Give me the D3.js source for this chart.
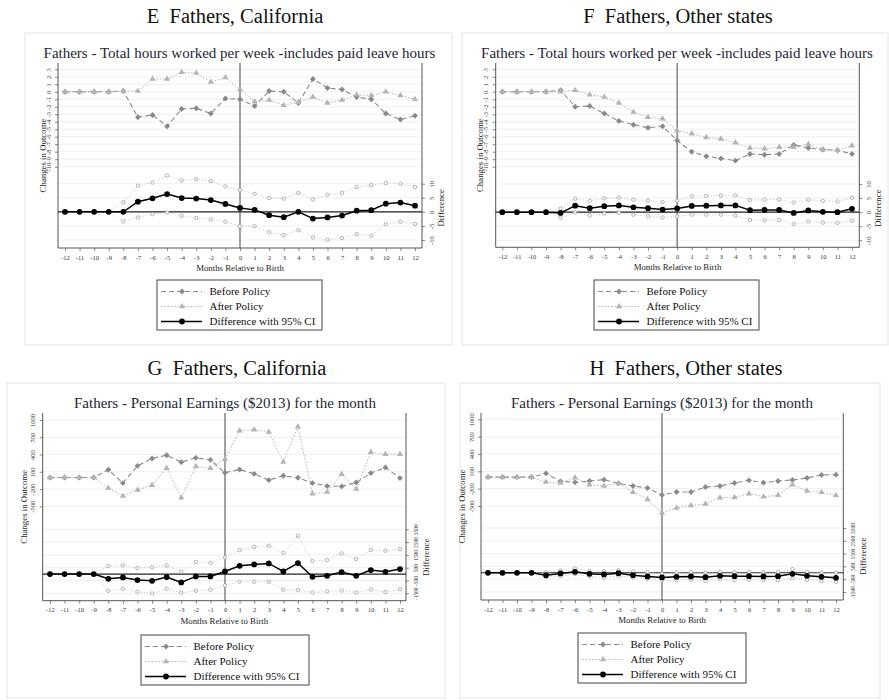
<!DOCTYPE html>
<html>
<head>
<meta charset="utf-8">
<script src="https://cdn.jsdelivr.net/npm/d3@7"></script>
<style>
  body { margin: 0; background: #fff; }
  svg { display: block; }
  text { font-family: "Liberation Serif", "Times New Roman", Times, serif; }
</style>
</head>
<body>
<svg id="chart" width="889" height="700"></svg>
<script>
// months relative to birth (x categories)
const months = [-12, -11, -10, -9, -8, -7, -6, -5, -4, -3, -2, -1, 0, 1, 2, 3, 4, 5, 6, 7, 8, 9, 10, 11, 12];

// E: hours, California
const hours_ca_before = [0, 0, 0, 0, 0.1, -3.4, -3.1, -4.6, -2.3, -2.2, -2.9, -0.9, -1.0, -1.9, 0.1, 0, -1.5, 1.7, 0.5, 0.3, -0.7, -1.0, -2.9, -3.7, -3.2];
const hours_ca_after = [0, 0, 0, 0, 0.1, 0.1, 1.7, 1.7, 2.6, 2.5, 1.3, 1.9, 0.3, -1.3, -1.1, -1.8, -1.4, -0.7, -1.5, -1.1, -0.4, -0.5, 0, -0.5, -1.0];
const hours_ca_diff = [0, 0, 0, 0, 0, 3.6, 4.8, 6.3, 4.9, 4.7, 4.2, 2.8, 1.4, 0.7, -1.2, -1.9, 0, -2.4, -2.0, -1.3, 0.4, 0.6, 2.9, 3.3, 2.2];
const hours_ca_upper = [0, 0, 0, 0, 3.4, 9.3, 10.4, 12.9, 11.2, 11.6, 10.9, 9.0, 7.8, 6.4, 4.9, 4.7, 6.7, 4.4, 6.1, 6.7, 8.8, 9.5, 10.2, 10.0, 8.8];
const hours_ca_lower = [0, 0, 0, 0, -3.4, -2.0, -0.8, -0.2, -1.4, -2.2, -2.7, -3.5, -5.1, -5.1, -7.2, -8.3, -6.5, -9.1, -9.9, -9.3, -7.9, -8.5, -4.4, -3.5, -4.3];

// F: hours, other states
const hours_ot_before = [0, 0, 0, 0, 0.2, -2.0, -1.9, -2.9, -3.9, -4.4, -4.8, -4.6, -6.5, -8.0, -8.6, -8.9, -9.2, -8.3, -8.4, -8.3, -7.1, -7.5, -7.7, -7.8, -8.3];
const hours_ot_after = [0, 0, 0, 0, 0, 0.2, -0.4, -0.7, -1.5, -2.7, -3.4, -3.6, -5.2, -5.6, -6.1, -6.3, -6.8, -7.5, -7.6, -7.4, -7.4, -7.0, -7.7, -7.8, -7.2];
const hours_ot_diff = [0, 0, 0, 0, -0.3, 2.3, 1.4, 2.1, 2.4, 1.7, 1.4, 0.9, 1.3, 2.2, 2.3, 2.4, 2.4, 0.7, 0.8, 0.8, -0.3, 0.6, 0.1, 0, 1.2];
const hours_ot_upper = [0, 0, 0, 0, 1.3, 4.8, 4.0, 4.9, 5.2, 4.4, 4.1, 3.6, 4.1, 5.6, 5.8, 5.9, 6.0, 4.3, 4.4, 4.5, 3.4, 4.4, 4.0, 3.8, 5.1];
const hours_ot_lower = [0, 0, 0, 0, -2.0, -0.1, -1.2, -0.5, -0.2, -0.9, -1.4, -1.9, -1.5, -0.9, -0.9, -0.9, -1.2, -2.8, -2.9, -2.8, -4.2, -3.3, -3.7, -3.8, -3.0];

// G: earnings, California
const earn_ca_before = [0, 0, 0, 0, 135, -96, 204, 331, 388, 267, 342, 308, 83, 140, 65, -44, 31, -4, -96, -148, -154, -85, 77, 175, -10];
const earn_ca_after = [0, 0, 0, 0, -183, -321, -217, -131, 163, -350, 192, 163, 319, 815, 833, 792, 273, 885, -281, -252, 60, -200, 440, 406, 406];
const earn_ca_diff = [0, 0, 0, 0, -365, -260, -469, -521, -234, -651, -182, -182, 208, 651, 755, 833, 208, 859, -208, -130, 156, -130, 313, 182, 391];
const earn_ca_upper = [0, 0, 0, 0, 625, 677, 469, 521, 677, 182, 938, 885, 1302, 1875, 2109, 2214, 1667, 2995, 1016, 1094, 1615, 1172, 1875, 1823, 1953];
const earn_ca_lower = [0, 0, 0, 0, -1302, -1146, -1380, -1510, -1146, -1458, -1302, -1224, -885, -599, -599, -599, -1224, -1250, -1432, -1354, -1276, -1432, -1198, -1406, -1172];

// H: earnings, other states
const earn_ot_before = [0, 0, 0, 0, 65, -73, -90, -67, -44, -108, -154, -188, -310, -258, -258, -171, -154, -102, -56, -96, -67, -50, -15, 37, 42];
const earn_ot_after = [0, 0, 0, 0, -85, -102, -10, -131, -154, -108, -263, -385, -621, -535, -489, -465, -356, -350, -287, -339, -315, -131, -240, -263, -315];
const earn_ot_diff = [0, 0, 0, 0, -182, -52, 78, -78, -130, -26, -182, -286, -365, -313, -286, -339, -234, -260, -260, -286, -260, -78, -234, -313, -391];
const earn_ot_upper = [0, 0, 0, 0, 26, 182, 339, 130, 130, 208, 104, 52, -78, 26, 52, 0, 78, 52, 78, 52, 52, 286, 78, 26, 0];
const earn_ot_lower = [0, 0, 0, 0, -339, -260, -104, -286, -391, -234, -365, -469, -599, -599, -521, -625, -521, -573, -547, -573, -573, -443, -547, -651, -703];

const hours_left_ticks = [3, 2, 1, 0, -1, -2, -3, -4, -5, -6, -7, -8, -9, -10];
const hours_right_ticks = [10, 5, 0, -5, -10];
const earn_left_ticks = [1000, 700, 400, 100, -200, -500];
const earn_right_ticks = [3500, 2500, 1500, 500, -500, -1500];

const legend_labels = ['Before Policy', 'After Policy', 'Difference with 95% CI'];
const hours_title = 'Fathers - Total hours worked per week -includes paid leave hours';
const earn_title = 'Fathers - Personal Earnings ($2013) for the month';

const panels = [
  { heading: 'E\u00a0\u00a0Fathers, California', title: hours_title,
    before: hours_ca_before, after: hours_ca_after, diff: hours_ca_diff, upper: hours_ca_upper, lower: hours_ca_lower,
    left_ticks: hours_left_ticks, right_ticks: hours_right_ticks, right_font: 6.5,
    frame: [25, 33, 427, 312], head: [235, 23], title_pos: [239.5, 58],
    plot: { l: 58, r: 422, t: 63, b: 248 }, x_range: [65, 415],
    left_range: [166.7, 69.3], right_range: [240, 183.7], legend: [157, 280, 165, 50], ytitle_dx: 12.5, rtitle_dx: 21.5 },
  { heading: 'F\u00a0\u00a0Fathers, Other states', title: hours_title,
    before: hours_ot_before, after: hours_ot_after, diff: hours_ot_diff, upper: hours_ot_upper, lower: hours_ot_lower,
    left_ticks: hours_left_ticks, right_ticks: hours_right_ticks, right_font: 6.5,
    frame: [462, 33, 426, 312], head: [678, 23], title_pos: [677, 58],
    plot: { l: 495.7, r: 859.3, t: 63, b: 247.3 }, x_range: [502.3, 852],
    left_range: [166.7, 69.3], right_range: [240.3, 184], legend: [594, 280, 165, 50], ytitle_dx: 12.5, rtitle_dx: 21.5 },
  { heading: 'G\u00a0\u00a0Fathers, California', title: earn_title,
    before: earn_ca_before, after: earn_ca_after, diff: earn_ca_diff, upper: earn_ca_upper, lower: earn_ca_lower,
    left_ticks: earn_left_ticks, right_ticks: earn_right_ticks, right_font: 5.4,
    frame: [7, 383, 438, 315], head: [237, 375], title_pos: [225, 408],
    plot: { l: 42.7, r: 406, t: 413, b: 600.7 }, x_range: [50, 400],
    left_range: [506.3, 420], right_range: [593.3, 529.3], legend: [141, 635, 168, 50], ytitle_dx: 16, rtitle_dx: 23 },
  { heading: 'H\u00a0\u00a0Fathers, Other states', title: earn_title,
    before: earn_ot_before, after: earn_ot_after, diff: earn_ot_diff, upper: earn_ot_upper, lower: earn_ot_lower,
    left_ticks: earn_left_ticks, right_ticks: earn_right_ticks, right_font: 5.4,
    frame: [460, 383, 420, 315], head: [686, 375], title_pos: [662, 408],
    plot: { l: 481, r: 843.3, t: 413, b: 600 }, x_range: [488, 836],
    left_range: [506, 419.3], right_range: [592, 528], legend: [578, 633, 168, 50], ytitle_dx: 16, rtitle_dx: 23 }
];

const before_color = '#8a8a8a';
const after_color = '#b4b4b4';
const ci_color = '#a0a0a0';

const svg = d3.select('#chart');

function diamond() { return d3.symbol().type(d3.symbolSquare).size(17)(); }
function triangle() { return d3.symbol().type(d3.symbolTriangle).size(17)(); }
function dot() { return d3.symbol().type(d3.symbolCircle).size(26)(); }

function DrawPanel(p) {
  const g = svg.append('g');
  const pl = p.plot;

  // frame around the whole panel figure
  g.append('rect')
    .attr('x', p.frame[0]).attr('y', p.frame[1])
    .attr('width', p.frame[2]).attr('height', p.frame[3])
    .attr('fill', '#fff').attr('stroke', '#e4e4e4').attr('stroke-width', 1);

  g.append('text')
    .attr('x', p.head[0]).attr('y', p.head[1])
    .attr('text-anchor', 'middle').attr('font-size', 20.5).attr('fill', '#111')
    .text(p.heading);

  g.append('text')
    .attr('x', p.title_pos[0]).attr('y', p.title_pos[1])
    .attr('text-anchor', 'middle').attr('font-size', 15).attr('fill', '#1e2636')
    .text(p.title);

  const x = d3.scaleLinear().domain([d3.min(months), d3.max(months)]).range(p.x_range);
  const y_left = d3.scaleLinear().domain([d3.min(p.left_ticks), d3.max(p.left_ticks)]).range(p.left_range);
  const y_right = d3.scaleLinear().domain([d3.min(p.right_ticks), d3.max(p.right_ticks)]).range(p.right_range);

  // grid
  const grid = g.append('g').attr('stroke', '#ebebeb').attr('stroke-width', 0.8);
  grid.selectAll('line.gl').data(p.left_ticks).join('line')
    .attr('x1', pl.l).attr('x2', pl.r)
    .attr('y1', d => y_left(d)).attr('y2', d => y_left(d));
  grid.selectAll('line.gr').data(p.right_ticks).join('line')
    .attr('x1', pl.l).attr('x2', pl.r)
    .attr('y1', d => y_right(d)).attr('y2', d => y_right(d));

  // axes
  const plain = d => String(d);
  const left_axis = g.append('g')
    .attr('transform', 'translate(' + pl.l + ',0)')
    .call(d3.axisLeft(y_left).tickValues(p.left_ticks).tickFormat(plain).tickSize(3).tickPadding(0));
  const right_axis = g.append('g')
    .attr('transform', 'translate(' + pl.r + ',0)')
    .call(d3.axisRight(y_right).tickValues(p.right_ticks).tickFormat(plain).tickSize(3).tickPadding(0));
  const bottom_axis = g.append('g')
    .attr('transform', 'translate(0,' + pl.b + ')')
    .call(d3.axisBottom(x).tickValues(months).tickFormat(plain).tickSize(3).tickPadding(4));

  [left_axis, right_axis, bottom_axis].forEach(a => {
    a.attr('font-family', null).attr('font-size', null);
    a.select('.domain').remove();
    a.selectAll('.tick line').attr('stroke', '#555').attr('stroke-width', 0.7);
    a.selectAll('.tick text').attr('font-size', 6.5).attr('fill', '#333');
  });
  left_axis.selectAll('.tick text')
    .attr('x', null).attr('dy', null).attr('text-anchor', 'middle')
    .attr('transform', 'translate(-7.5,0) rotate(-90)');
  right_axis.selectAll('.tick text')
    .attr('x', null).attr('dy', null).attr('text-anchor', 'middle').attr('font-size', p.right_font)
    .attr('transform', 'translate(11.5,0) rotate(-90)');
  bottom_axis.selectAll('.tick text').attr('dy', '0.71em');

  // plot frame lines: left, bottom, right
  g.append('path')
    .attr('d', 'M' + pl.l + ',' + pl.t + 'V' + pl.b + 'H' + pl.r + 'V' + pl.t)
    .attr('fill', 'none').attr('stroke', '#555').attr('stroke-width', 1);

  // reference lines
  g.append('line')
    .attr('x1', x(0)).attr('x2', x(0)).attr('y1', pl.t).attr('y2', pl.b)
    .attr('stroke', '#555').attr('stroke-width', 1.1);
  g.append('line')
    .attr('x1', pl.l).attr('x2', pl.r).attr('y1', y_right(0)).attr('y2', y_right(0))
    .attr('stroke', '#222').attr('stroke-width', 1.1);

  // axis titles
  g.append('text')
    .attr('transform', 'translate(' + (pl.l - p.ytitle_dx) + ',' + ((pl.t + pl.b) / 2) + ') rotate(-90)')
    .attr('text-anchor', 'middle').attr('font-size', 8.8).attr('fill', '#222')
    .text('Changes in Outcome');
  g.append('text')
    .attr('transform', 'translate(' + (pl.r + p.rtitle_dx) + ',' + ((p.right_range[0] + p.right_range[1]) / 2 - 4) + ') rotate(-90)')
    .attr('text-anchor', 'middle').attr('font-size', 8.8).attr('fill', '#222')
    .text('Difference');
  g.append('text')
    .attr('x', (pl.l + pl.r) / 2).attr('y', pl.b + 23)
    .attr('text-anchor', 'middle').attr('font-size', 8.8).attr('fill', '#222')
    .text('Months Relative to Birth');

  const line_left = d3.line().x((d, i) => x(months[i])).y(d => y_left(d));
  const line_right = d3.line().x((d, i) => x(months[i])).y(d => y_right(d));

  // confidence bands
  [p.upper, p.lower].forEach(band => {
    g.append('path').datum(band)
      .attr('fill', 'none').attr('stroke', '#c6c6c6').attr('stroke-width', 0.9)
      .attr('stroke-dasharray', '1.2,1.8').attr('d', line_right);
    g.append('g').selectAll('circle').data(band).join('circle')
      .attr('cx', (d, i) => x(months[i])).attr('cy', d => y_right(d))
      .attr('r', 1.7).attr('fill', '#fff').attr('stroke', ci_color).attr('stroke-width', 0.8);
  });

  // before policy
  g.append('path').datum(p.before)
    .attr('fill', 'none').attr('stroke', before_color).attr('stroke-width', 1.1)
    .attr('stroke-dasharray', '5,3').attr('d', line_left);
  g.append('g').selectAll('path').data(p.before).join('path')
    .attr('d', diamond())
    .attr('transform', (d, i) => 'translate(' + x(months[i]) + ',' + y_left(d) + ') rotate(45)')
    .attr('fill', before_color);

  // after policy
  g.append('path').datum(p.after)
    .attr('fill', 'none').attr('stroke', after_color).attr('stroke-width', 1)
    .attr('stroke-dasharray', '1.5,1.8').attr('d', line_left);
  g.append('g').selectAll('path').data(p.after).join('path')
    .attr('d', triangle())
    .attr('transform', (d, i) => 'translate(' + x(months[i]) + ',' + y_left(d) + ')')
    .attr('fill', after_color);

  // difference
  g.append('path').datum(p.diff)
    .attr('fill', 'none').attr('stroke', '#000').attr('stroke-width', 1.5).attr('d', line_right);
  g.append('g').selectAll('path').data(p.diff).join('path')
    .attr('d', dot())
    .attr('transform', (d, i) => 'translate(' + x(months[i]) + ',' + y_right(d) + ')')
    .attr('fill', '#000');

  // legend
  const lg = g.append('g').attr('transform', 'translate(' + p.legend[0] + ',' + p.legend[1] + ')');
  lg.append('rect').attr('width', p.legend[2]).attr('height', p.legend[3])
    .attr('fill', '#fff').attr('stroke', '#444').attr('stroke-width', 1);
  const styles = [
    { color: before_color, dash: '5,3', width: 1.1, mark: diamond(), rot: 45 },
    { color: after_color, dash: '1.5,1.8', width: 1, mark: triangle(), rot: 0 },
    { color: '#000', dash: null, width: 1.5, mark: dot(), rot: 0 }
  ];
  legend_labels.forEach((label, i) => {
    const cy = 11.5 + 15 * i;
    lg.append('line').attr('x1', 4).attr('x2', 45).attr('y1', cy).attr('y2', cy)
      .attr('stroke', styles[i].color).attr('stroke-width', styles[i].width)
      .attr('stroke-dasharray', styles[i].dash);
    lg.append('path').attr('d', styles[i].mark)
      .attr('transform', 'translate(25,' + cy + ') rotate(' + styles[i].rot + ')')
      .attr('fill', styles[i].color);
    lg.append('text').attr('x', 52.5).attr('y', cy + 3.8)
      .attr('font-size', 11).attr('fill', '#111').text(label);
  });
}

panels.forEach(DrawPanel);
</script>
</body>
</html>
